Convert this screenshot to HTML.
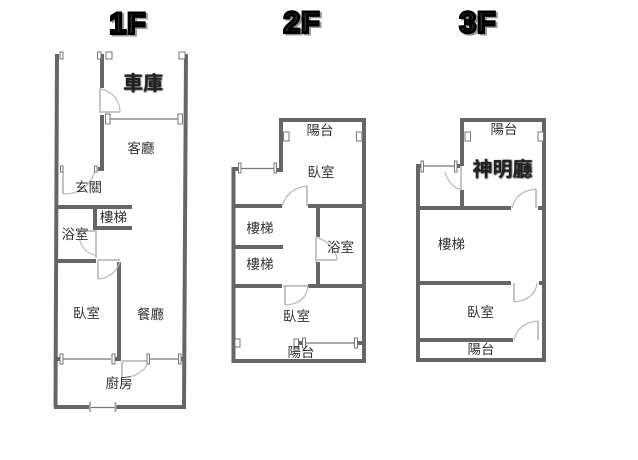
<!DOCTYPE html>
<html><head><meta charset="utf-8">
<style>
html,body{margin:0;padding:0;background:#fff;width:638px;height:460px;overflow:hidden}
svg{display:block}
.w{stroke:#666;stroke-width:4;fill:none}
.l{stroke:#777;stroke-width:1.2;fill:none}
.d{stroke:#bbb;stroke-width:1.2;fill:none}
.dl{stroke:#c4c4c4;stroke-width:2;fill:none}
.c{fill:#fff;stroke:#777;stroke-width:1}
.t{font-family:"Liberation Sans","Noto Sans CJK TC",sans-serif;font-size:13.5px;fill:#333;text-anchor:middle}
.b{font-family:"Liberation Sans","Noto Sans CJK TC",sans-serif;font-size:20px;font-weight:bold;fill:#222;text-anchor:middle;filter:url(#s)}
.h{font-family:"Liberation Sans",sans-serif;font-size:30px;font-weight:bold;text-anchor:middle;letter-spacing:1px}
.h1{fill:#999;stroke:#999;stroke-width:3}
.h2{fill:#333;stroke:#000;stroke-width:3}
</style></head><body>
<svg width="638" height="460" viewBox="0 0 638 460" xmlns="http://www.w3.org/2000/svg">
<defs><filter id="s" x="-20%" y="-20%" width="140%" height="140%"><feGaussianBlur in="SourceAlpha" stdDeviation="0.8"/><feOffset dx="0.5" dy="0.5"/><feMerge><feMergeNode/><feMergeNode in="SourceGraphic"/></feMerge></filter></defs>

<!-- titles -->
<text class="h h1" x="130" y="35">1F</text><text class="h h2" x="128" y="33.500">1F</text>
<text class="h h1" x="304" y="34">2F</text><text class="h h2" x="302" y="32.500">2F</text>
<text class="h h1" x="480" y="34">3F</text><text class="h h2" x="478" y="32.500">3F</text>

<!-- 1F walls -->
<path class="w" d="M57 54L55.500 407M186 54L184 407M54 407H90M115 407H186"/>
<path class="w" d="M102 54V88M102 115V169M98 169H104"/>
<path class="w" d="M55 207H132M95 207V230M95 228H132M55 261H96M119 262V361M55 359H60M115 359H121M181 359H185"/>
<!-- 1F thin lines -->
<path class="l" d="M110 119H178M63 359H111M149 359H178M90 407.500H115"/>
<!-- 1F doors -->
<path class="d" d="M100 89A23 23 0 0 1 120 112M63 194Q90 194 96 167M78 231Q80 252 95 255M98 279Q114 278 120 262M130 377Q146 372 148 361"/>
<path class="dl" d="M100 88V113M100 112H120M63 172V194M96 230V258M78 231H95M97 260H120M98 260V279M122 361V377M122 361H148"/>
<!-- 1F caps -->
<rect class="c" x="60" y="52" width="3" height="7"/><rect class="c" x="97.500" y="52" width="3.500" height="7"/><rect class="c" x="106" y="52" width="6" height="7"/><rect class="c" x="179" y="52" width="6" height="7"/>
<rect class="c" x="105.500" y="114" width="4.500" height="10"/><rect class="c" x="178" y="114" width="4.500" height="10"/>
<rect class="c" x="60.500" y="166" width="2.500" height="6"/><rect class="c" x="94.500" y="166" width="2.500" height="6"/>
<rect class="c" x="60" y="354" width="3" height="10"/><rect class="c" x="112" y="354" width="3" height="10"/><rect class="c" x="147" y="354" width="2.500" height="10"/><rect class="c" x="178.500" y="354" width="2.500" height="10"/>
<rect x="89" y="402" width="2" height="10" fill="#aaa"/><rect x="114.500" y="402" width="2" height="10" fill="#aaa"/>
<!-- 1F text -->
<text class="b" x="143" y="90">車庫</text>
<text class="t" x="141" y="153">客廳</text>
<text class="t" x="88.500" y="192">玄關</text>
<text class="t" x="113.500" y="222">樓梯</text>
<text class="t" x="75" y="239">浴室</text>
<text class="t" x="86.500" y="318">臥室</text>
<text class="t" x="150.500" y="319">餐廳</text>
<text class="t" x="119" y="388">廚房</text>

<!-- 2F walls -->
<path class="w" d="M279 120H366M281 120V172M364 120V361M233.500 167V363M232 361H366M232 169H239M277 170H282"/>
<path class="w" d="M234 206H282M308 206H364M318 206V237M318 262V286M234 247H283M234 286H282M308 286H364M298 343H302M358 343H362"/>
<path class="l" d="M241 168.500H274M306 343H354"/>
<!-- 2F doors -->
<path class="d" d="M307 186Q288 188 282 206M316 237Q336 244 337 260M285 305Q306 304 308 286"/>
<path class="dl" d="M307 186V206M316 237V262M316 260H337M285 286V305M283 286H308"/>
<rect class="c" x="283.500" y="132" width="5.500" height="9"/><rect class="c" x="356.500" y="132" width="5.500" height="9"/>
<rect class="c" x="238.500" y="163" width="2.500" height="10"/><rect class="c" x="274" y="163" width="2.500" height="10"/>
<rect class="c" x="235" y="339" width="5" height="8"/><rect class="c" x="294" y="339" width="4.500" height="8"/><rect class="c" x="302.500" y="338" width="3" height="10"/><rect class="c" x="354.500" y="338" width="3" height="10"/>
<text class="t" x="320" y="135">陽台</text>
<text class="t" x="321" y="177">臥室</text>
<text class="t" x="260" y="233">樓梯</text>
<text class="t" x="260" y="269">樓梯</text>
<text class="t" x="340.500" y="252">浴室</text>
<text class="t" x="296.500" y="321">臥室</text>
<text class="t" x="301" y="357">陽台</text>

<!-- 3F walls -->
<path class="w" d="M460 120H546M462 120V166M462 190V208M544 120V362M418 164V362M416 360H546M416 166H421M457 166H461"/>
<path class="w" d="M418 208H511M538 208H544M416 283H511M539 283H544M416 340H513"/>
<path class="l" d="M423 166H454"/>
<path class="d" d="M445 172Q449 186 461 190M536 189Q516 191 512 208M514 302Q535 300 537 283M538 321Q518 323 514 340"/>
<path class="dl" d="M461 166V190M536 189V208M514 283V302M538 321V340"/>
<rect class="c" x="421" y="161" width="2.500" height="11"/><rect class="c" x="454.500" y="161" width="2.500" height="11"/>
<rect class="c" x="465" y="132" width="5.500" height="9"/><rect class="c" x="538" y="132" width="5.500" height="9"/>
<text class="t" x="504" y="134">陽台</text>
<text class="b" x="502.500" y="176">神明廳</text>
<text class="t" x="451.500" y="249">樓梯</text>
<text class="t" x="480.500" y="317">臥室</text>
<text class="t" x="481" y="354">陽台</text>
</svg>
</body></html>
